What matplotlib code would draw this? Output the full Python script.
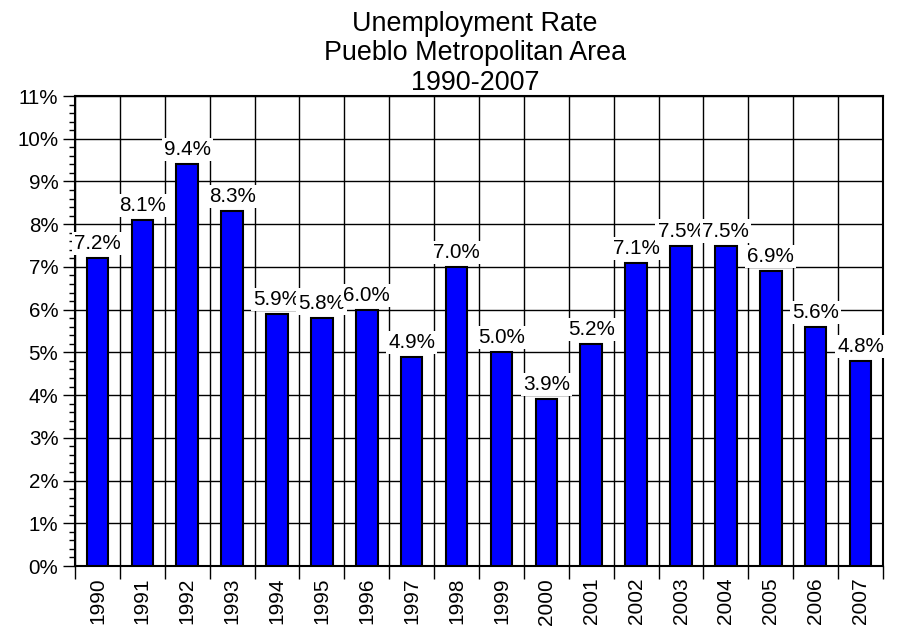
import matplotlib
matplotlib.use("Agg")
import matplotlib.pyplot as plt
import numpy as np
from matplotlib.ticker import MultipleLocator, FuncFormatter

plt.rcParams['font.family'] = ['Liberation Sans', 'DejaVu Sans']

years = ["1990", "1991", "1992", "1993", "1994", "1995", "1996", "1997", "1998",
         "1999", "2000", "2001", "2002", "2003", "2004", "2005", "2006", "2007"]
rates = [7.2, 8.1, 9.4, 8.3, 5.9, 5.8, 6.0, 4.9, 7.0,
         5.0, 3.9, 5.2, 7.1, 7.5, 7.5, 6.9, 5.6, 4.8]
title_lines = ["Unemployment Rate", "Pueblo Metropolitan Area", "1990-2007"]

W, H = 898, 626
fig = plt.figure(figsize=(W / 100, H / 100), dpi=100)
ax = fig.add_axes([75 / W, 1 - 566 / H, (883 - 75) / W, (566 - 96) / H])

x = np.arange(len(years))
ax.bar(x, rates, width=0.48, color="#0000ff", edgecolor="black", linewidth=1.5, zorder=3)

ax.set_xlim(-0.5, len(years) - 0.5)
ax.set_ylim(0, 11)

# y axis: major every 1%, minor every 0.2%
ax.yaxis.set_major_locator(MultipleLocator(1))
ax.yaxis.set_minor_locator(MultipleLocator(0.2))
ax.yaxis.set_major_formatter(FuncFormatter(lambda v, p: f"{v:.0f}%"))
ax.tick_params(axis="y", which="major", length=9, width=1, labelsize=14.8, pad=3)
ax.tick_params(axis="y", which="minor", length=4, width=1)

# x axis: ticks at category boundaries, labels at centres
ax.set_xticks(np.arange(len(years) + 1) - 0.5)
ax.set_xticklabels([])
ax.set_xticks(x, minor=True)
ax.set_xticklabels(years, minor=True, rotation=90, fontsize=15)
ax.tick_params(axis="x", which="major", length=9, width=1)
ax.tick_params(axis="x", which="minor", length=0, pad=8.5)

ax.grid(True, which="major", color="black", linewidth=1, zorder=0)
ax.set_axisbelow(True)
for s in ax.spines.values():
    s.set_linewidth(1.5)

for xi, r in zip(x, rates):
    ax.annotate(f"{r:.1f}%", (xi, r), xytext=(0, 6.5), textcoords="offset points",
                ha="center", va="baseline", fontsize=14.9, zorder=4,
                bbox=dict(facecolor="white", edgecolor="none", pad=1.5))

for line, yb in zip(title_lines, [31, 60, 90]):
    fig.text(475 / W, 1 - yb / H, line, ha="center", va="baseline", fontsize=19.4)

fig.savefig("out.png", dpi=100)
